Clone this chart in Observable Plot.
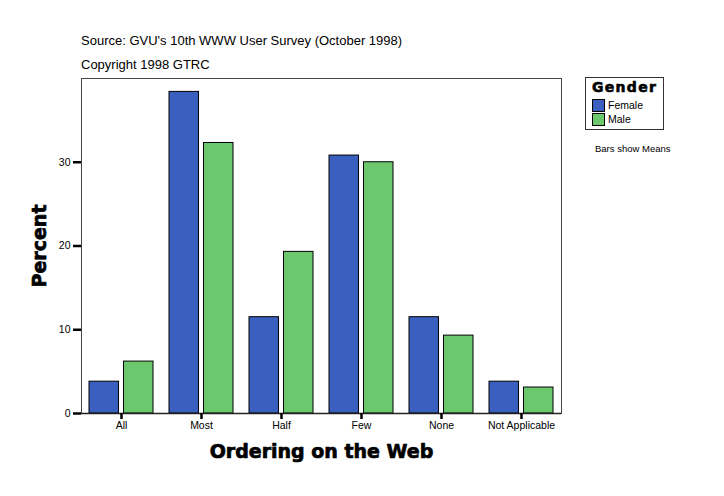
<!DOCTYPE html>
<html>
<head>
<meta charset="utf-8">
<script src="https://cdn.jsdelivr.net/npm/d3@7"></script>
<script src="https://cdn.jsdelivr.net/npm/@observablehq/plot@0.6"></script>
<style>
  html, body { margin: 0; padding: 0; background: #fff; }
  #wrap { position: relative; width: 724px; height: 496px; font-family: "Liberation Sans", Arial, sans-serif; color: #000; }
  #wrap svg { position: absolute; left: 0; top: 0; }
  .t { position: absolute; white-space: nowrap; }
  #src { left: 81px; top: 33px; font-size: 13px; }
  #copy { left: 81px; top: 57px; font-size: 13px; }
  #legend { position: absolute; left: 585px; top: 77px; width: 79px; height: 53px; border: 1px solid #333; box-sizing: border-box; background: #fff; }
  #legend .h { position: absolute; left: 6px; top: 1px; font-family: "DejaVu Sans", sans-serif; font-weight: 900; font-size: 14px; -webkit-text-stroke: 0.6px #000; letter-spacing: 1.3px; }
  #legend .row { position: absolute; left: 6px; font-size: 10.5px; line-height: 13px; }
  #legend .sw { display: inline-block; width: 11px; height: 11px; border: 1px solid #000; vertical-align: top; margin-right: 3px; }
  #note { left: 595px; top: 143px; font-size: 9.5px; }
</style>
</head>
<body>
<div id="wrap">
  <div class="t" id="src">Source: GVU's 10th WWW User Survey (October 1998)</div>
  <div class="t" id="copy">Copyright 1998 GTRC</div>
  <div id="legend"></div>
  <div class="t" id="note">Bars show Means</div>
</div>
<script>
const categories = ["All", "Most", "Half", "Few", "None", "Not Applicable"];
const genders = ["Female", "Male"];
const femaleValues = [3.8, 38.4, 11.5, 30.8, 11.5, 3.8];
const maleValues = [6.2, 32.3, 19.3, 30.0, 9.3, 3.1];
const yTicks = [0, 10, 20, 30];
const colors = ["#3a5fbe", "#6cc86c"];

const femaleRows = categories.map((c, i) => ({category: c, gender: "Female", value: femaleValues[i]}));
const maleRows = categories.map((c, i) => ({category: c, gender: "Male", value: maleValues[i]}));

const heavy = "DejaVu Sans, sans-serif";

const chart = Plot.plot({
  width: 724,
  height: 496,
  marginTop: 78,
  marginLeft: 81,
  marginRight: 163,
  marginBottom: 83,
  style: {fontFamily: "Liberation Sans, Arial, sans-serif", background: "transparent", color: "#000"},
  x: {domain: categories, paddingInner: 0.2, paddingOuter: 0.1, label: null},
  y: {domain: [0, 40], label: null},
  color: {domain: genders, range: colors},
  marks: [
    Plot.barY(femaleRows, {x: "category", y: "value", fill: "gender", stroke: "#000", strokeWidth: 1, insetRight: 34.5}),
    Plot.barY(maleRows, {x: "category", y: "value", fill: "gender", stroke: "#000", strokeWidth: 1, insetLeft: 34.5}),
    Plot.frame({stroke: "#444", strokeWidth: 1}),
    Plot.ruleY([0], {stroke: "#222", strokeWidth: 1.5}),
    Plot.axisY({ticks: yTicks, tickSize: 8, strokeWidth: 2.5, tickPadding: 3, fontSize: 10.5, label: null}),
    Plot.axisX({tickSize: 6, strokeWidth: 2.5, tickPadding: 2, fontSize: 10.5, label: null}),
    Plot.text(["Ordering on the Web"], {frameAnchor: "bottom", dy: 38, lineAnchor: "middle", textAnchor: "middle", text: d => d, fontSize: 19, fontWeight: 900, fontFamily: heavy, stroke: "#000", strokeWidth: 0.7, fill: "#000", letterSpacing: 1.4}),
    Plot.text(["Percent"], {frameAnchor: "left", dx: -42, rotate: -90, lineAnchor: "middle", textAnchor: "middle", text: d => d, fontSize: 19, fontWeight: 900, fontFamily: heavy, stroke: "#000", strokeWidth: 0.7, fill: "#000", letterSpacing: 1.2})
  ]
});
document.getElementById("wrap").insertBefore(chart, document.getElementById("src"));

const legend = document.getElementById("legend");
const h = document.createElement("div");
h.className = "h";
h.textContent = "Gender";
legend.appendChild(h);
genders.forEach((g, i) => {
  const row = document.createElement("div");
  row.className = "row";
  row.style.top = (21 + i * 14) + "px";
  const sw = document.createElement("span");
  sw.className = "sw";
  sw.style.background = colors[i];
  row.appendChild(sw);
  row.appendChild(document.createTextNode(g));
  legend.appendChild(row);
});
</script>
</body>
</html>
